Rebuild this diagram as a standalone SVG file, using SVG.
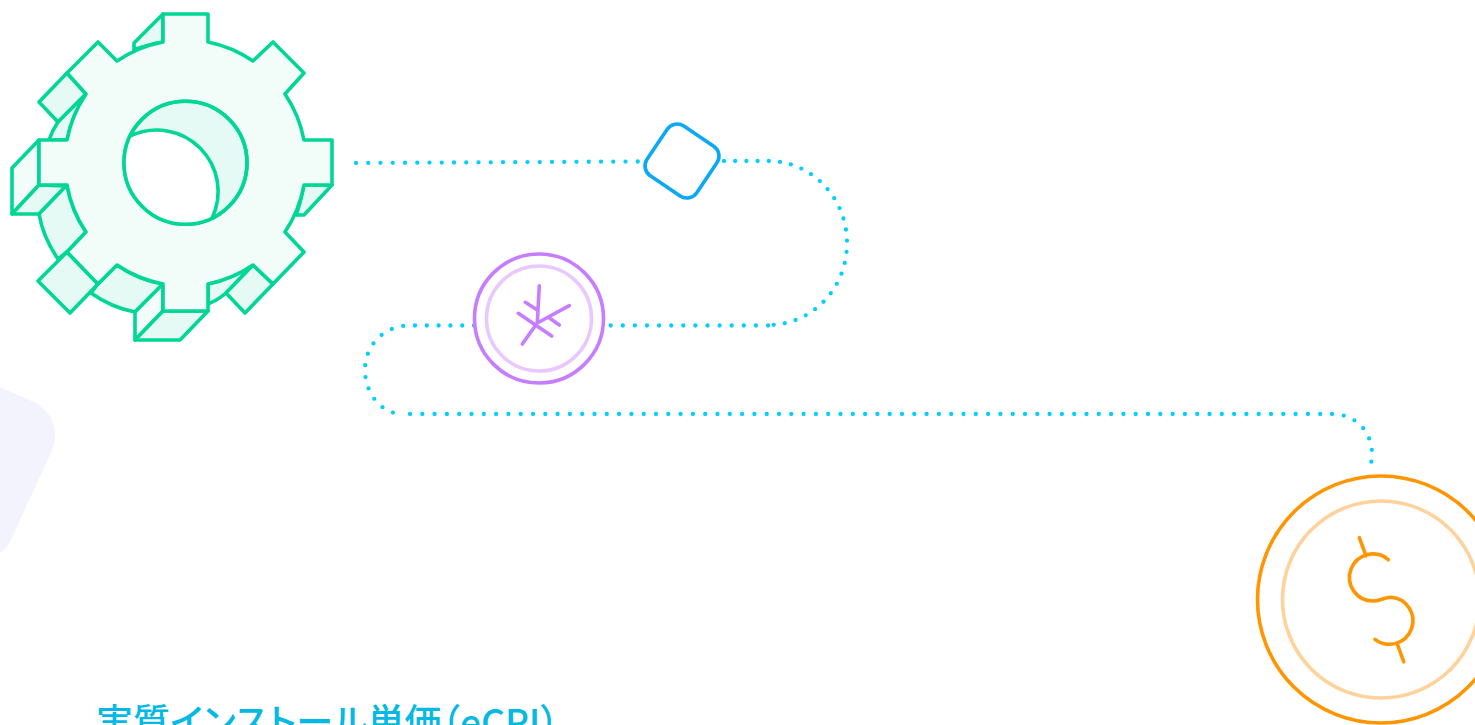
<svg xmlns="http://www.w3.org/2000/svg" width="1475" height="725" viewBox="0 0 1475 725">
<style>
.g{stroke:#00d695;stroke-width:3.6;stroke-linejoin:round;stroke-linecap:round}
.s{fill:#e5faf4}.l{fill:#f2fcf9}
.d{fill:none;stroke:#00cfff;stroke-width:4.300;stroke-linecap:round}
.n{fill:none;stroke-linecap:round;stroke-linejoin:round}
.t{font-family:"Noto Sans CJK JP","Noto Sans",sans-serif;font-size:37px;font-weight:500;font-feature-settings:"palt";fill:#06b9e4}
</style>
<rect width="1475" height="725" fill="#fff"/>
<path id="blob" d="M0 387L34 402C52 411 60 431 52 450L11 540C8 546 4 550 0 553Z" fill="#f3f3fe"/>
<g id="connectors">
<path class="d" stroke-dasharray="0 12.25" d="M356 163L640 161.5"/>
<path class="d" stroke-dasharray="0 11.2" d="M724 161H768C812 161 847 198 847 243C847 289 812 325 768 325"/>
<path class="d" stroke-dasharray="0 12.1" d="M768 325.500H606"/>
<path class="d" stroke-dasharray="0 11.800" d="M474 325.500H410C384 325.500 365 345 365 370C365 394 382 414 402 414"/>
<path class="d" stroke-dasharray="0 12.3" d="M410 414H1330"/>
<path class="d" stroke-dasharray="0 11.800" d="M1332 414C1356 414 1372 432 1372 454L1371 466"/>
</g>
<g id="gear" class="g">
<path class="s" d="M163 14L134 43V50A124 124 0 0 1 163 42Z"/>
<path class="s" d="M67 73L39 102L58 122L86 94Z"/>
<path class="s" d="M86 94L58 122Q52 131 49 140H67Q72 115 86 94Z"/>
<path class="l" d="M39 140L12 168V214L39 185Z"/>
<path class="s" d="M39 185L12 214H39L66 186Z"/>
<path class="s" d="M39 214C42 231 49 246 58 259L67 252L86 232C76 218 70 202 67 185Z"/>
<path class="s" d="M67 252L38 281L70 313L98 284Z"/>
<path class="s" d="M98 284L91 293C105 303 119 309 135 312L163 284C146 281 131 275 117 265Z"/>
<path class="l" d="M163 284L135 312V340L163 311Z"/>
<path class="s" d="M163 311L135 340H180L208 311Z"/>
<path class="s" d="M208 284V304Q218 300 226 293L253 265Q232 279 208 284Z"/>
<path class="s" d="M253 265L226 293L245 313L273 284Z"/>
<path class="s" d="M304 185H332L304 215H296C300 205 302 195 304 185Z"/>
<path class="l" d="M163 14H208V42A124 124 0 0 1 253 61L273 42L304 73L285 94A124 124 0 0 1 304 140H332V185H304A124 124 0 0 1 285 232L304 252L273 284L253 265A124 124 0 0 1 208 284V311H163V284A124 124 0 0 1 117 265L98 284L67 252L86 232A124 124 0 0 1 67 185H39V140H67A124 124 0 0 1 86 94L67 73L98 42L117 61A124 124 0 0 1 163 42Z"/>
<circle class="s" cx="185.500" cy="162.700" r="61.500"/>
<path fill="#fff" stroke="none" d="M130.300 135.900A61.500 61.500 0 0 1 212 218.200A61.500 61.500 0 0 1 130.300 135.900Z"/>
<path fill="none" d="M130.300 135.900A61.500 61.500 0 0 1 212 218.200"/>
<circle fill="none" cx="185.500" cy="162.700" r="61.500"/>
</g>
<g id="diamond">
<rect x="652" y="131" width="60" height="60" rx="12" transform="rotate(34 682 161)" fill="#fff" stroke="#0aa8f5" stroke-width="3.6"/>
</g>
<g id="purple-coin">
<circle cx="539" cy="318.500" r="64.500" fill="#fff" stroke="#c77dff" stroke-width="3.6"/>
<circle cx="539" cy="318.500" r="52.500" fill="none" stroke="#e9c8ff" stroke-width="3.6"/>
<path class="n" stroke="#c77dff" stroke-width="3.6" d="M539.300 285.700L537.300 323L569.300 305.700M537.300 323L522.300 344M518.300 313.300L551.700 336M525.300 302.300L537.300 310M548.300 317.300L559.300 325"/>
</g>
<g id="dollar-coin">
<circle cx="1381" cy="599.500" r="123.500" fill="#fff" stroke="#ff9500" stroke-width="3.600"/>
<circle cx="1381" cy="599.500" r="98.500" fill="none" stroke="#ffd29b" stroke-width="3.600"/>
<path class="n" stroke="#ff9500" stroke-width="3.600" d="M1388.300 559.700A23.500 23.500 0 1 0 1373.300 601C1380 601 1384 597.300 1391 597.300A23.500 23.500 0 1 1 1375 639.300M1359.300 537.700L1366 555.700M1397.300 644L1403.700 661.700"/>
</g>
<text class="t" x="96" y="736">実質インストール単価（eCPI）</text>
</svg>
